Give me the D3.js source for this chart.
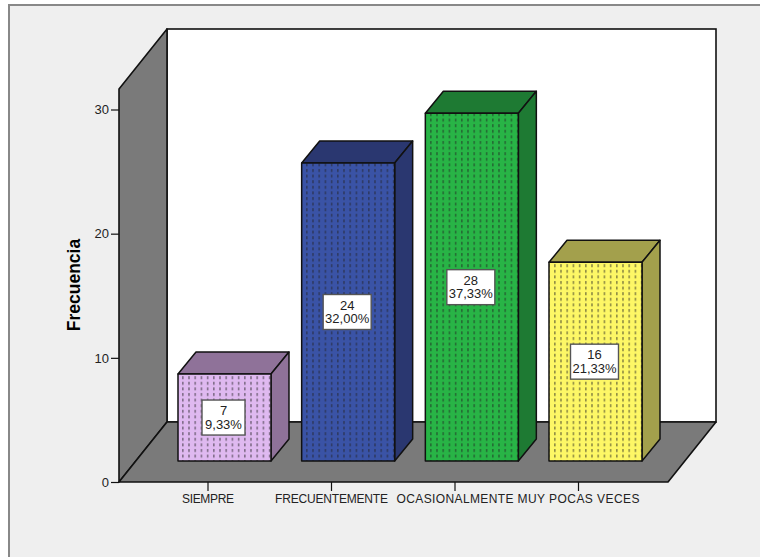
<!DOCTYPE html>
<html><head><meta charset="utf-8">
<script src="https://cdn.jsdelivr.net/npm/d3@7"></script>
<style>html,body{margin:0;padding:0;background:#fff}svg{display:block}text{font-family:"Liberation Sans",Arial,sans-serif;fill:#222}</style>
</head><body><div id="c"></div>
<script>
const categories = ["SIEMPRE","FRECUENTEMENTE","OCASIONALMENTE","MUY POCAS VECES"];
const counts = [7,24,28,16];
const percents = ["9,33%","32,00%","37,33%","21,33%"];
const faceColors = ["#dfb9f0","#3a53a6","#28b446","#fdf766"];
const sideColors = ["#8f7299","#2a3770","#1e7a33","#a3a04c"];
const yTicks = [0,10,20,30];

const W=760,H=557;
const svg=d3.select("#c").append("svg").attr("width",W).attr("height",H);
svg.append("rect").attr("width",W).attr("height",H).attr("fill","#fff");
svg.append("rect").attr("x",9).attr("y",5).attr("width",W+10).attr("height",H+10)
  .attr("fill","#efefef").attr("stroke","#888").attr("stroke-width",2);

const defs=svg.append("defs");
faceColors.forEach((c,i)=>{
  const p=defs.append("pattern").attr("id","p"+i).attr("patternUnits","userSpaceOnUse")
    .attr("width",6.2).attr("height",5.6).attr("patternTransform","translate(182,0)");
  p.append("rect").attr("width",6.2).attr("height",5.6).attr("fill",c);
  p.append("rect").attr("x",0).attr("y",1).attr("width",1.6).attr("height",3).attr("fill","#222").attr("opacity",0.5);
});

const ox=119, ybase=482, dx=48, dy=-60, floorW=549;
const y=d3.scaleLinear().domain([0,30]).range([ybase,109.5]);
const xTick=d3.scalePoint().domain(categories).range([207.5,578]);
const xBar=d3.scaleBand().domain(categories).range([178,642]).paddingInner(0.248).paddingOuter(0);
const ink="#111";
const wall="#7a7a7a";

svg.append("rect").attr("x",ox+dx).attr("y",29).attr("width",floorW).attr("height",ybase+dy-29)
  .attr("fill","#fff").attr("stroke",ink).attr("stroke-width",1.6);
svg.append("path").attr("d",d3.line()([[ox,ybase],[ox,89],[ox+dx,29],[ox+dx,ybase+dy]])+"Z")
  .attr("fill",wall).attr("stroke",ink).attr("stroke-width",1.6).attr("stroke-linejoin","round");
svg.append("path").attr("d",d3.line()([[ox,ybase],[ox+dx,ybase+dy],[ox+dx+floorW,ybase+dy],[ox+floorW,ybase]])+"Z")
  .attr("fill",wall).attr("stroke",ink).attr("stroke-width",1.6).attr("stroke-linejoin","round");

const yAxis=d3.axisLeft(y).tickValues(yTicks).tickSize(8).tickPadding(2);
const gy=svg.append("g").attr("transform",`translate(${ox},0)`).call(yAxis);
gy.select(".domain").remove();
gy.selectAll("line").attr("stroke",ink).attr("stroke-width",1.2);
gy.selectAll("text").attr("font-size",13);

const xLabelWidths=[52,113,117,122];
const xAxis=d3.axisBottom(xTick).tickSize(9).tickPadding(3);
const gx=svg.append("g").attr("transform",`translate(0,${ybase})`).call(xAxis);
gx.select(".domain").remove();
gx.selectAll("line").attr("stroke",ink).attr("stroke-width",1.2);
gx.selectAll("text").attr("font-size",12).attr("textLength",(d,i)=>xLabelWidths[i]).attr("lengthAdjust","spacing");

svg.append("text").attr("transform","translate(80,285) rotate(-90)").attr("text-anchor","middle")
  .attr("font-size",17.5).attr("font-weight","bold").text("Frecuencia").style("fill","#000");

const barBase=461, bdx=18, bdy=-22;
const unit=(y(0)-y(1));
categories.forEach((c,i)=>{
  const x0=xBar(c), w=xBar.bandwidth(), h=counts[i]*unit, t=barBase-h;
  const g=svg.append("g").attr("stroke",ink).attr("stroke-width",1.5).attr("stroke-linejoin","round");
  g.append("path").attr("d",d3.line()([[x0,t],[x0+bdx,t+bdy],[x0+w+bdx,t+bdy],[x0+w,t]])+"Z").attr("fill",sideColors[i]);
  g.append("path").attr("d",d3.line()([[x0+w,t],[x0+w+bdx,t+bdy],[x0+w+bdx,barBase+bdy],[x0+w,barBase]])+"Z").attr("fill",sideColors[i]);
  g.append("rect").attr("x",x0).attr("y",t).attr("width",w).attr("height",h).attr("fill",`url(#p${i})`);
  const cx=x0+w/2-1, cy=t+h/2;
  const bw=percents[i].length>5?48:43;
  svg.append("rect").attr("x",cx-bw/2).attr("y",cy-17.5).attr("width",bw).attr("height",35)
    .attr("fill","#fff").attr("stroke","#555").attr("stroke-width",1.4);
  svg.append("text").attr("x",cx).attr("y",cy-2.5).attr("text-anchor","middle").attr("font-size",13).text(counts[i]);
  svg.append("text").attr("x",cx).attr("y",cy+11).attr("text-anchor","middle").attr("font-size",13).text(percents[i]);
});
</script></body></html>
